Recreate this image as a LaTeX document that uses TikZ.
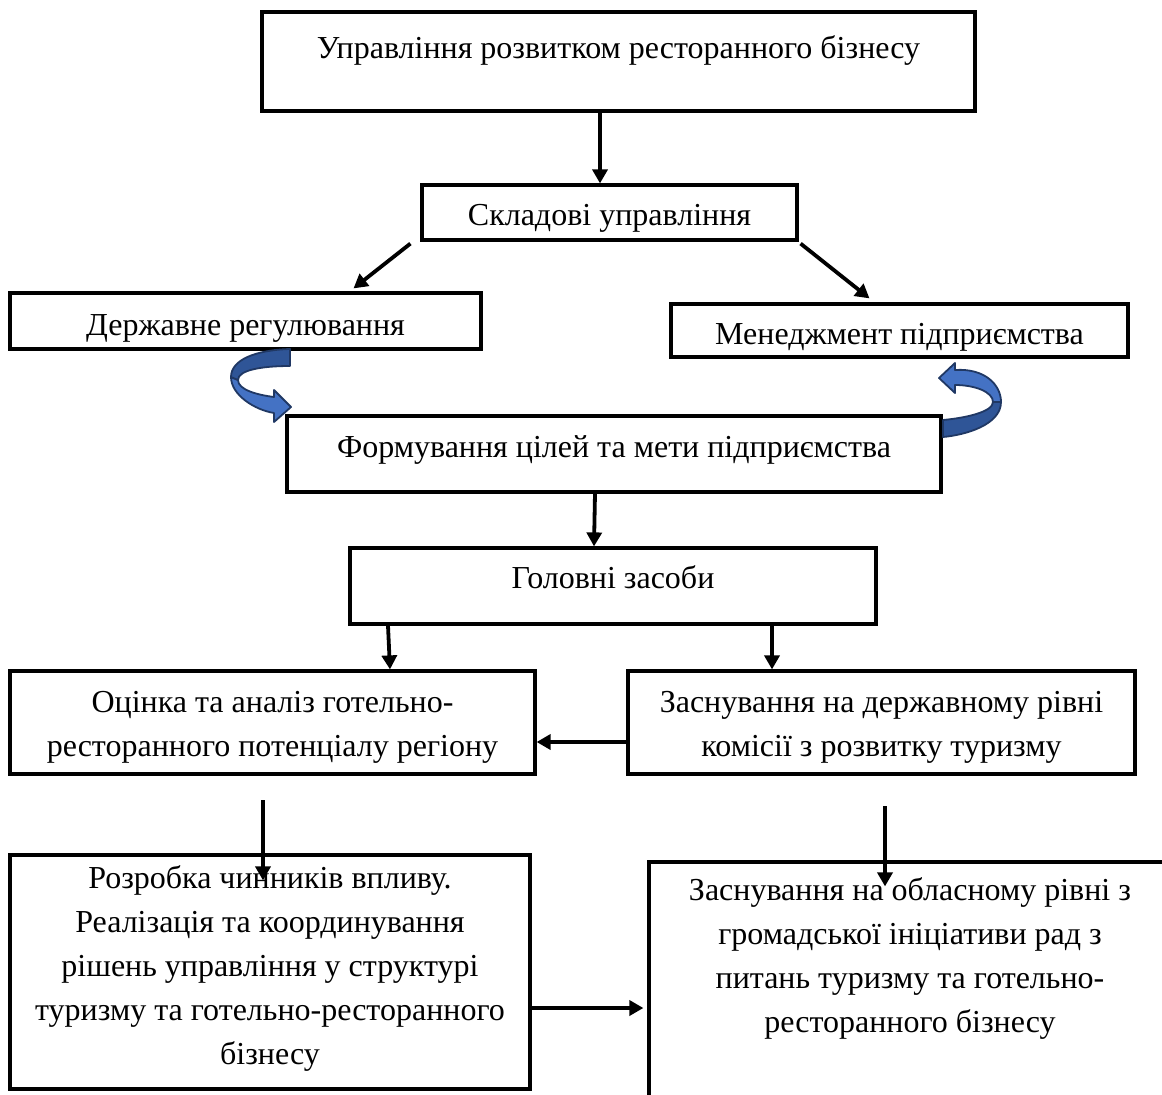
\documentclass[tikz,border=0pt]{standalone}
\usepackage{fontspec}
\setmainfont{Liberation Serif}
\usetikzlibrary{positioning,arrows.meta}
\definecolor{turnlight}{RGB}{68,114,196}
\definecolor{turndark}{RGB}{47,85,151}
\definecolor{turnedge}{RGB}{32,56,100}
\tikzset{
  block/.style = {shape=rectangle, draw, line width=3.2pt, inner sep=0pt},
  txt/.style   = {align=center, inner sep=0pt},
  link/.style  = {draw, line width=3.8pt,
                  -{Triangle[length=14pt, width=15pt]}},
  turn/.style  = {draw=turnedge, line width=1.8pt, line join=round},
}

\begin{document}
\begin{tikzpicture}[
        x                 = 1pt,
        y                 = -1pt,
        every node/.style = {font=\fontsize{32}{44}\selectfont}
    ]
    \useasboundingbox (0,0) rectangle (1162,1095);
    \clip (0,0) rectangle (1162,1095);

    \node [block, minimum width=713, minimum height=99] (top) at (618.5,61.5) {};
    \node [block, minimum width=375, minimum height=55] (parts) at (609.5,212.5) {};
    \node [block, minimum width=471, minimum height=56] (state) at (245.5,321) {};
    \node [block, minimum width=457, minimum height=53] (mgmt) at (899.5,330.5) {};
    \node [block, minimum width=654, minimum height=76] (goals) at (614,454) {};
    \node [block, minimum width=526, minimum height=76] (means) at (613,586) {};
    \node [block, minimum width=525, minimum height=103] (assess) at (272.5,722.5) {};
    \node [block, minimum width=507, minimum height=103] (comm) at (881.5,722.5) {};
    \node [block, minimum width=520, minimum height=234] (factors) at (270,972) {};
    \node [block, minimum width=600, minimum height=300] (region) at (949,1012) {};

    \node [txt, anchor=base] (top-t) at (618.5,58) {Управління розвитком ресторанного бізнесу};
    \node [txt, anchor=base] (parts-t) at (609.5,225) {Складові управління};
    \node [txt, anchor=base] (state-t) at (245.5,335) {Державне регулювання};
    \node [txt, anchor=base] (mgmt-t) at (899.5,344) {Менеджмент підприємства};
    \node [txt, anchor=base] (goals-t) at (614,457) {Формування цілей та мети підприємства};
    \node [txt, anchor=base] (means-t) at (613,588) {Головні засоби};
    \node [txt] (assess-t) at ([yshift=-5pt]assess.center)
          {Оцінка та аналіз готельно-\\ресторанного потенціалу регіону};
    \node [txt] (comm-t) at ([yshift=-5pt]comm.center)
          {Заснування на державному рівні\\комісії з розвитку туризму};
    \node [txt] (factors-t) at (270,968)
          {Розробка чинників впливу.\\Реалізація та координування\\рішень управління у структурі\\туризму та готельно-ресторанного\\бізнесу};
    \node [txt] (region-t) at (910,958)
          {Заснування на обласному рівні з\\громадської ініціативи рад з\\питань туризму та готельно-\\ресторанного бізнесу};

    \coordinate (left-from)  at (263,800);
    \coordinate (right-from) at (885,806);
    \coordinate (mid-from)   at ([yshift=-36pt]factors.east);

    \draw [link] ([xshift=-18.5pt]top.south) -- ([xshift=-9.5pt]parts.north);
    \draw [link] ([xshift=-10pt,yshift=-2pt]parts.south west) -- ([xshift=108pt,yshift=3pt]state.north);
    \draw [link] ([xshift=2pt,yshift=-2pt]parts.south east) -- ([xshift=-30pt,yshift=4pt]mgmt.north);
    \draw [link] ([xshift=-19pt]goals.south) -- ([xshift=-19pt]means.north);
    \draw [link] ([xshift=-225pt]means.south) -- ([xshift=117.5pt]assess.north);
    \draw [link] ([xshift=159pt]means.south) -- ([xshift=-109.5pt]comm.north);
    \draw [link] ([yshift=-19.5pt]comm.west) -- ([yshift=-19.5pt]assess.east);
    \draw [link] (left-from) -- ([yshift=-27pt]factors.north -| left-from);
    \draw [link] (right-from) -- ([yshift=-26pt]region.north -| right-from);
    \draw [link] (mid-from) -- ([xshift=-4pt]mid-from -| region.west);

    \draw [turn, fill=turnlight] (231,377) .. controls (231,395) and (255,410) .. (274,413)
          -- (274,422) -- (291,407) -- (274,390) -- (274,397)
          .. controls (258,395) and (238,390) .. (238,380) -- cycle;
    \draw [turn, fill=turndark] (290,349) .. controls (255,350) and (231,360) .. (231,377)
          -- (238,380) .. controls (238,370) and (262,366) .. (290,366) -- cycle;
    \draw [turn, fill=turnlight] (1001,402) .. controls (1001,385) and (985,368) .. (955,370)
          -- (955,363) -- (939,378) -- (955,393) -- (955,385)
          .. controls (975,385) and (993,392) .. (993,402) -- cycle;
    \draw [turn, fill=turndark] (1001,402) .. controls (1001,425) and (965,435) .. (943,437)
          -- (943,420) .. controls (965,418) and (993,412) .. (993,402) -- cycle;
\end{tikzpicture}
\end{document}
